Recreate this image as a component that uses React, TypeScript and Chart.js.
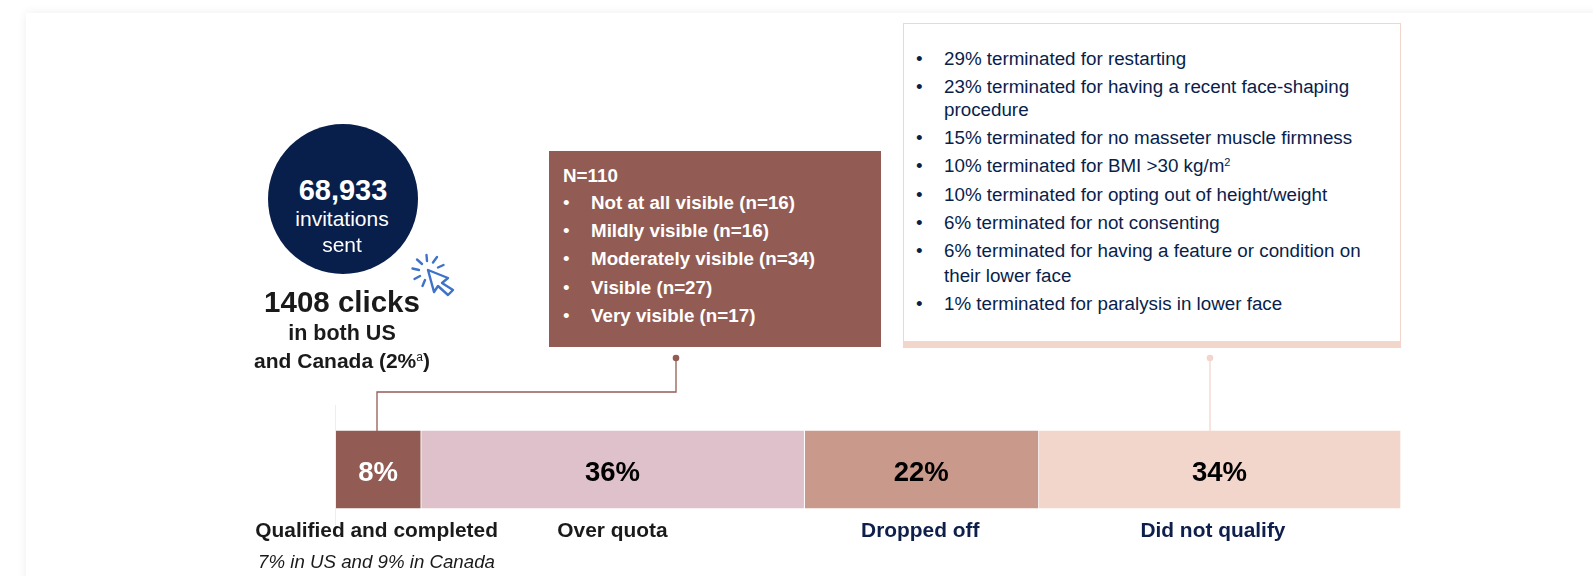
import React, { useEffect, useRef } from "react";
import { Chart, registerables } from "chart.js";

Chart.register(...registerables);

const categories = ["Qualified and completed", "Over quota", "Dropped off", "Did not qualify"];
const values = [8, 36, 22, 34];
const barColors = ["#925c54", "#dfc1cc", "#c9998c", "#f2d6cc"];
const valueColors = ["#ffffff", "#000000", "#000000", "#000000"];
const categoryColors = ["#1a1a1a", "#1a1a1a", "#0f1f4b", "#0f1f4b"];
const categoryOffsets = [-2, -0.5, -1.5, -7];

const visibilityTotal = "N=110";
const visibilityItems = [
  "Not at all visible (n=16)",
  "Mildly visible (n=16)",
  "Moderately visible (n=34)",
  "Visible (n=27)",
  "Very visible (n=17)",
];

const FONT = '"Liberation Sans", Arial, sans-serif';
const NAVY = "#081e4b";
const BROWN = "#925c54";
const PEACH = "#f2d6cc";

const labelPlugin = {
  id: "segmentLabels",
  afterDatasetsDraw(chart: any) {
    const { ctx } = chart;
    ctx.save();
    ctx.textAlign = "center";
    ctx.textBaseline = "middle";
    chart.data.datasets.forEach((_: any, i: number) => {
      const bar = chart.getDatasetMeta(i).data[0];
      const p = bar.getProps(["x", "base", "y"], true);
      const cx = (p.x + p.base) / 2;
      ctx.font = `bold 27.5px ${FONT}`;
      ctx.fillStyle = valueColors[i];
      ctx.fillText(`${values[i]}%`, cx - 0.5, p.y + 3.5);
      ctx.font = `bold 20.9px ${FONT}`;
      ctx.fillStyle = categoryColors[i];
      ctx.fillText(categories[i], cx + categoryOffsets[i], 531);
    });
    ctx.restore();
  },
};

function Txt({ x, y, size, bold, italic, color, align, children }: any) {
  const transform =
    align === "left" ? "translate(0,-50%)" : "translate(-50%,-50%)";
  return (
    <div
      style={{
        position: "absolute",
        left: x,
        top: y,
        transform,
        fontSize: size,
        fontWeight: bold ? 700 : 400,
        fontStyle: italic ? "italic" : "normal",
        color,
        whiteSpace: "nowrap",
        lineHeight: 1,
      }}
    >
      {children}
    </div>
  );
}

const terminated: [number, any, boolean][] = [
  [59, "29% terminated for restarting", true],
  [87, "23% terminated for having a recent face-shaping", true],
  [110, "procedure", false],
  [138, "15% terminated for no masseter muscle firmness", true],
  [166, <>10% terminated for BMI &gt;30 kg/m<sup style={{ fontSize: 11, verticalAlign: 6, lineHeight: 0 }}>2</sup></>, true],
  [195, "10% terminated for opting out of height/weight", true],
  [223, "6% terminated for not consenting", true],
  [251, "6% terminated for having a feature or condition on", true],
  [276, "their lower face", false],
  [304, "1% terminated for paralysis in lower face", true],
];

const visibilityRows = [203, 231, 259, 288, 316];

export default function App() {
  const ref = useRef<HTMLCanvasElement>(null);

  useEffect(() => {
    const chart = new Chart(ref.current as HTMLCanvasElement, {
      type: "bar",
      data: {
        labels: ["Participants"],
        datasets: categories.map((c, i) => ({
          label: c,
          data: [values[i]],
          backgroundColor: barColors[i],
          borderColor: "#ffffff",
          borderWidth: 1,
          barPercentage: 1,
          categoryPercentage: 1,
        })),
      },
      options: {
        indexAxis: "y",
        animation: false,
        responsive: false,
        layout: { padding: { left: 336, right: 192, top: 430, bottom: 67 } },
        plugins: { legend: { display: false }, tooltip: { enabled: false } },
        scales: {
          x: { stacked: true, min: 0, max: 100, display: false },
          y: { stacked: true, display: false },
        },
      },
      plugins: [labelPlugin],
    } as any);
    return () => chart.destroy();
  }, []);

  return (
    <div
      style={{
        position: "fixed",
        left: 0,
        top: 0,
        width: 1593,
        height: 576,
        overflow: "hidden",
        background: "#ffffff",
        fontFamily: FONT,
      }}
    >
      <div
        style={{
          position: "absolute",
          left: 26,
          top: 13,
          width: 1700,
          height: 700,
          background: "#fff",
          boxShadow: "0 0 10px rgba(0,0,0,0.07)",
        }}
      />
      <div style={{ position: "absolute", left: 335, top: 405, width: 1, height: 120, background: "#eeeeee" }} />
      <canvas ref={ref} width={1593} height={576} style={{ position: "absolute", left: 0, top: 0 }} />

      {/* invitations */}
      <div style={{ position: "absolute", left: 268, top: 124, width: 150, height: 150, borderRadius: "50%", background: NAVY }} />
      <Txt x={343} y={190} size={29} bold color="#fff">68,933</Txt>
      <Txt x={342} y={217.5} size={21} color="#fff">invitations</Txt>
      <Txt x={342} y={243.5} size={21} color="#fff">sent</Txt>
      <Txt x={342} y={302} size={29.5} bold color="#1a1a1a">1408 clicks</Txt>
      <Txt x={342} y={334} size={21.5} bold color="#1a1a1a">in both US</Txt>
      <Txt x={342} y={360} size={21} bold color="#1a1a1a">
        and Canada (2%<sup style={{ fontSize: 12, verticalAlign: 7, lineHeight: 0, fontWeight: 400 }}>a</sup>)
      </Txt>
      <svg style={{ position: "absolute", left: 405, top: 245 }} width={60} height={60} viewBox="0 0 60 60" fill="none" stroke="#3f72c9" strokeWidth={2.4} strokeLinecap="round" strokeLinejoin="round">
        <path d="M23 25 L43 33 L37 38 L48 45 L43 50 L33 41 L29 47 Z" />
        <path d="M7.5 23.5 L14 25 M12 14.5 L17 19 M21.5 10 L22 16 M32 12 L28 17.5 M38.5 20 L33 22.5 M9.5 34 L15 31 M17.5 41 L20 35" />
      </svg>

      {/* visibility box */}
      <div style={{ position: "absolute", left: 548.5, top: 151, width: 332.5, height: 196, background: BROWN }} />
      <Txt x={563} y={176} size={18.8} bold color="#fff" align="left">{visibilityTotal}</Txt>
      {visibilityItems.map((t, i) => (
        <React.Fragment key={t}>
          <Txt x={563} y={visibilityRows[i]} size={18.8} color="#fff" align="left">•</Txt>
          <Txt x={591} y={visibilityRows[i]} size={18.8} bold color="#fff" align="left">{t}</Txt>
        </React.Fragment>
      ))}

      {/* connector to visibility box */}
      <svg style={{ position: "absolute", left: 0, top: 0 }} width={1593} height={576} fill="none">
        <path d="M676 358 V392 H377 V431" stroke={BROWN} strokeWidth={1.3} />
        <circle cx={676} cy={358} r={3.3} fill={BROWN} />
        <path d="M1210 358 V431" stroke={PEACH} strokeWidth={1.3} />
        <circle cx={1210} cy={358} r={3.3} fill={PEACH} />
      </svg>

      {/* terminated box */}
      <div style={{ position: "absolute", left: 902.5, top: 23, width: 498.5, height: 325, boxSizing: "border-box", border: `1px solid ${PEACH}`, borderBottom: `7px solid ${PEACH}`, background: "#fff" }} />
      {terminated.map(([y, t, bullet], i) => (
        <React.Fragment key={i}>
          {bullet ? <Txt x={916} y={y} size={18.8} color={NAVY} align="left">•</Txt> : null}
          <Txt x={944} y={y} size={18.8} color={NAVY} align="left">{t}</Txt>
        </React.Fragment>
      ))}

      <Txt x={376.5} y={562} size={18.7} italic color="#1a1a1a">7% in US and 9% in Canada</Txt>
    </div>
  );
}
